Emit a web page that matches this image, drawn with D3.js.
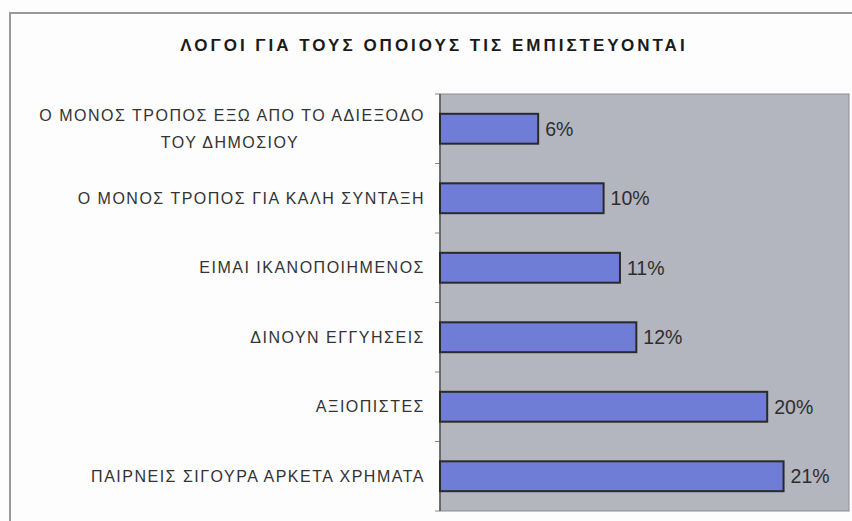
<!DOCTYPE html>
<html lang="el">
<head>
<meta charset="UTF-8">
<title>Λόγοι</title>
<style>
  body { margin: 0; background: #fdfdfd; }
  svg { display: block; }
</style>
</head>
<body>
<script src="https://d3js.org/d3.v7.min.js"></script>
<script>
var title = "ΛΟΓΟΙ ΓΙΑ ΤΟΥΣ ΟΠΟΙΟΥΣ ΤΙΣ ΕΜΠΙΣΤΕΥΟΝΤΑΙ";
var categories = [
  ["Ο ΜΟΝΟΣ ΤΡΟΠΟΣ ΕΞΩ ΑΠΟ ΤΟ ΑΔΙΕΞΟΔΟ", "ΤΟΥ ΔΗΜΟΣΙΟΥ"],
  ["Ο ΜΟΝΟΣ ΤΡΟΠΟΣ ΓΙΑ ΚΑΛΗ ΣΥΝΤΑΞΗ"],
  ["ΕΙΜΑΙ ΙΚΑΝΟΠΟΙΗΜΕΝΟΣ"],
  ["ΔΙΝΟΥΝ ΕΓΓΥΗΣΕΙΣ"],
  ["ΑΞΙΟΠΙΣΤΕΣ"],
  ["ΠΑΙΡΝΕΙΣ ΣΙΓΟΥΡΑ ΑΡΚΕΤΑ ΧΡΗΜΑΤΑ"]
];
var values = [6, 10, 11, 12, 20, 21];

var W = 852, H = 521;
var plot = {left: 440, top: 94, right: 849, bottom: 511};

var svg = d3.select("body").append("svg").attr("width", W).attr("height", H);

// outer chart frame (runs off the picture at right and bottom)
svg.append("path")
  .attr("d", "M10," + H + "V13H" + W)
  .attr("fill", "none")
  .attr("stroke", "#999").attr("stroke-width", 2);

svg.append("text")
  .attr("x", 434).attr("y", 51)
  .attr("text-anchor", "middle")
  .attr("font-family", "Liberation Sans, Arial, sans-serif")
  .attr("font-weight", "bold")
  .attr("font-size", 17)
  .attr("letter-spacing", 3)
  .attr("fill", "#1a1a1a")
  .text(title);

var x = d3.scaleLinear().domain([0, 25]).range([plot.left, plot.right]);
var y = d3.scaleBand().domain(d3.range(values.length))
  .range([plot.top, plot.bottom]).paddingInner(0.57).paddingOuter(0.285);

// plot area
svg.append("rect")
  .attr("x", plot.left).attr("y", plot.top)
  .attr("width", plot.right - plot.left).attr("height", plot.bottom - plot.top)
  .attr("fill", "#b3b5bf")
  .attr("stroke", "#8c8c94").attr("stroke-width", 1);

// category axis, ticks between bands
var step = y.step();
var bounds = d3.range(values.length + 1).map(function (i) { return plot.top + i * step; });
svg.selectAll("line.tick").data(bounds).enter().append("line")
  .attr("class", "tick")
  .attr("x1", plot.left - 5).attr("x2", plot.left)
  .attr("y1", function (d) { return d; }).attr("y2", function (d) { return d; })
  .attr("stroke", "#888").attr("stroke-width", 1);
svg.append("line")
  .attr("x1", plot.left).attr("x2", plot.left)
  .attr("y1", plot.top).attr("y2", plot.bottom)
  .attr("stroke", "#555").attr("stroke-width", 1.5);

svg.selectAll("rect.bar").data(values).enter().append("rect")
  .attr("class", "bar")
  .attr("x", x(0))
  .attr("y", function (d, i) { return y(i); })
  .attr("width", function (d) { return x(d) - x(0); })
  .attr("height", y.bandwidth())
  .attr("fill", "#6f7dd6")
  .attr("stroke", "#2a2a2a").attr("stroke-width", 2);

svg.selectAll("text.val").data(values).enter().append("text")
  .attr("class", "val")
  .attr("x", function (d) { return x(d) + 7; })
  .attr("y", function (d, i) { return y(i) + y.bandwidth() / 2; })
  .attr("dy", "0.35em")
  .attr("font-family", "Liberation Sans, Arial, sans-serif")
  .attr("font-size", 19.5)
  .attr("fill", "#2e2e2e")
  .text(function (d) { return d + "%"; });

var lab = svg.selectAll("text.cat").data(categories).enter().append("text")
  .attr("class", "cat")
  .attr("text-anchor", "end")
  .attr("font-family", "Liberation Sans, Arial, sans-serif")
  .attr("font-size", 16)
  .attr("letter-spacing", 1.5)
  .attr("fill", "#333")
  .attr("transform", function (d, i) {
    var cy = y(i) + y.bandwidth() / 2 - (d.length - 1) * 13.5;
    return "translate(425," + cy + ")";
  });
lab.selectAll("tspan").data(function (d) { return d; }).enter().append("tspan")
  .attr("x", 0)
  .attr("y", function (d, j) { return j * 27; })
  .attr("dy", "0.35em")
  .text(function (d) { return d; });
// second line of the first label is centred under the first
lab.filter(function (d) { return d.length > 1; }).selectAll("tspan")
  .filter(function (d, j) { return j === 1; })
  .attr("text-anchor", "middle")
  .attr("x", -195);
</script>
</body>
</html>
